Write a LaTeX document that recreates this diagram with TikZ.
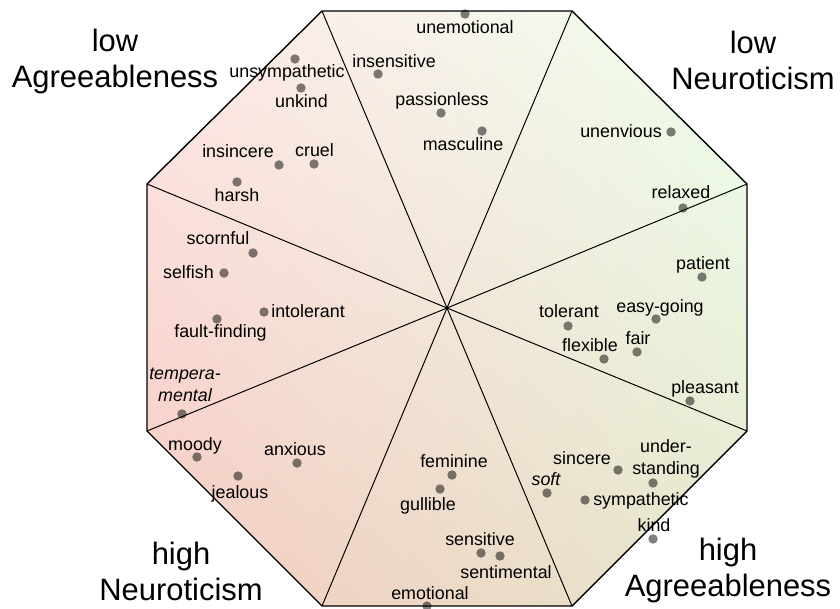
\documentclass[tikz,border=0pt]{standalone}
\usepackage{fontspec}
\setmainfont{Liberation Sans}
\usepackage{tikz}
\usetikzlibrary{shadings}

\definecolor{pinkUL}{RGB}{255,232,232}
\definecolor{greenUR}{RGB}{238,255,238}
\definecolor{roseLL}{RGB}{244,202,192}
\definecolor{sandLR}{RGB}{229,231,204}

\begin{document}
\begin{tikzpicture}[x=0.025cm, y=-0.025cm,
  trait/.style={circle, fill=black, fill opacity=0.5, inner sep=0pt, minimum size=6.7pt},
  word/.style={font=\fontsize{12.7}{15.4}\selectfont, inner sep=0pt, anchor=base},
  pole/.style={font=\fontsize{22}{25.6}\selectfont, inner sep=0pt, anchor=base, align=center}]
\useasboundingbox (0,0) rectangle (840,609);

\coordinate (c) at (447,308);
\coordinate (v1) at (322,11);
\coordinate (v2) at (572,11);
\coordinate (v3) at (747,184);
\coordinate (v4) at (747,431);
\coordinate (v5) at (572,606);
\coordinate (v6) at (322,606);
\coordinate (v7) at (147,431);
\coordinate (v8) at (147,184);

\shade[upper left=pinkUL, upper right=greenUR, lower left=roseLL, lower right=sandLR]
  (v1) -- (v2) -- (v3) -- (v4) -- (v5) -- (v6) -- (v7) -- (v8) -- cycle;
\foreach \p in {v1,v2,v3,v4,v5,v6,v7,v8}
  \draw[line width=0.7pt] (c) -- (\p);
\draw[line width=1pt, line join=miter] (v1) -- (v2) -- (v3) -- (v4) -- (v5) -- (v6) -- (v7) -- (v8) -- cycle;

% low Agreeableness
\node (unsympathetic) at (295,59) [trait] {};
\node (unsympatheticL) at (287,77.7) [word] {unsympathetic};
\node (unkind) at (301,88) [trait] {};
\node (unkindL) at (301.5,107.3) [word] {unkind};
\node (insincere) at (279,165) [trait] {};
\node (insincereL) at (238,157.3) [word] {insincere};
\node (cruel) at (314,164) [trait] {};
\node (cruelL) at (314.5,156.7) [word] {cruel};
\node (harsh) at (237,182) [trait] {};
\node (harshL) at (237,201.7) [word] {harsh};
\node (scornful) at (253,253) [trait] {};
\node (scornfulL) at (218,245) [word] {scornful};
\node (selfish) at (224,273) [trait] {};
\node (selfishL) at (214,279) [word, anchor=base east] {selfish};
\node (intolerant) at (264,312) [trait] {};
\node (intolerantL) at (271,317.7) [word, anchor=base west] {intolerant};
\node (faultfinding) at (217,319) [trait] {};
\node (faultfindingL) at (220.5,337.7) [word] {fault-finding};
\node (temperamental) at (182,414) [trait] {};
\node (temperamentalL) at (185,401) [word, align=center] {\itshape tempera-\\\itshape mental};

% low Neuroticism
\node (insensitive) at (378,74) [trait] {};
\node (insensitiveL) at (394,67.7) [word] {insensitive};
\node (unemotional) at (465,14) [trait] {};
\node (unemotionalL) at (465,34) [word] {unemotional};
\node (passionless) at (441,113) [trait] {};
\node (passionlessL) at (442,105.3) [word] {passionless};
\node (masculine) at (482,131) [trait] {};
\node (masculineL) at (463,150.7) [word] {masculine};
\node (unenvious) at (671,132) [trait] {};
\node (unenviousL) at (662,137.7) [word, anchor=base east] {unenvious};
\node (relaxed) at (683,208) [trait] {};
\node (relaxedL) at (681,199) [word] {relaxed};

% high Agreeableness
\node (patient) at (702,277) [trait] {};
\node (patientL) at (703,270) [word] {patient};
\node (easygoing) at (656,319) [trait] {};
\node (easygoingL) at (660,312.3) [word] {easy-going};
\node (tolerant) at (568,326) [trait] {};
\node (tolerantL) at (569,317.7) [word] {tolerant};
\node (fair) at (637,352) [trait] {};
\node (fairL) at (638,345) [word] {fair};
\node (flexible) at (604,359) [trait] {};
\node (flexibleL) at (590,351.7) [word] {flexible};
\node (pleasant) at (690,401) [trait] {};
\node (pleasantL) at (705,393.7) [word] {pleasant};
\node (soft) at (547,493) [trait] {};
\node (softL) at (546,485) [word] {\itshape soft};
\node (sincere) at (618,470) [trait] {};
\node (sincereL) at (582,464.3) [word] {sincere};
\node (understanding) at (653,483) [trait] {};
\node (understandingL) at (666,474) [word, align=center] {under-\\standing};
\node (sympathetic) at (585,500) [trait] {};
\node (sympatheticL) at (593,505.7) [word, anchor=base west] {sympathetic};
\node (kind) at (653,539) [trait] {};
\node (kindL) at (654,531) [word] {kind};

% high Neuroticism
\node (moody) at (197,457) [trait] {};
\node (moodyL) at (195,450.7) [word] {moody};
\node (jealous) at (238,476) [trait] {};
\node (jealousL) at (240,498.3) [word] {jealous};
\node (anxious) at (297,463) [trait] {};
\node (anxiousL) at (295,455) [word] {anxious};
\node (feminine) at (452,475) [trait] {};
\node (feminineL) at (454,467.3) [word] {feminine};
\node (gullible) at (440,489) [trait] {};
\node (gullibleL) at (428,510.7) [word] {gullible};
\node (sensitive) at (481,553) [trait] {};
\node (sensitiveL) at (480,545.7) [word] {sensitive};
\node (sentimental) at (500,556) [trait] {};
\node (sentimentalL) at (506,578.3) [word] {sentimental};
\node (emotional) at (427,606) [trait] {};
\node (emotionalL) at (430,599) [word] {emotional};

% poles
\node (lowA) at (115,87.5) [pole] {low\\Agreeableness};
\node (lowN) at (753,89.5) [pole] {low\\Neuroticism};
\node (highN) at (181,600) [pole] {high\\Neuroticism};
\node (highA) at (728,596) [pole] {high\\Agreeableness};
\end{tikzpicture}
\end{document}
